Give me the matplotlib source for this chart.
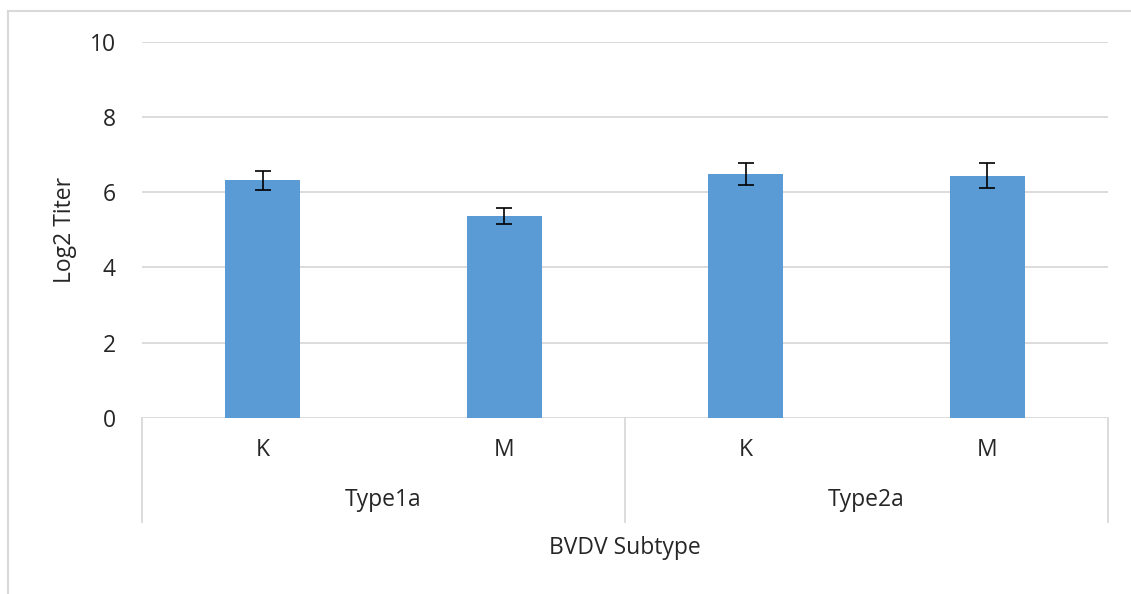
import matplotlib
matplotlib.use("Agg")
import matplotlib.pyplot as plt
import numpy as np

# data
subtypes = ["Type1a", "Type2a"]
groups = ["K", "M"]
titers = [6.32, 5.37, 6.48, 6.44]
errors = [0.25, 0.21, 0.30, 0.33]
y_ticks = [0, 2, 4, 6, 8, 10]

BAR = "#5B9BD5"
GRID = "#D9D9D9"
TXT = "#262626"
FS = 16.5

plt.rcParams['font.family'] = ['Open Sans', 'DejaVu Sans']

W, H = 1131, 594
fig = plt.figure(figsize=(W / 100, H / 100), dpi=100)
ax = fig.add_axes([142 / W, (H - 418) / H, 966 / W, (418 - 41.7) / H])

n = len(subtypes) * len(groups)
x = np.arange(n)
ax.bar(x, titers, width=0.31, color=BAR, zorder=3)
ax.errorbar(x, titers, yerr=errors, fmt='none', ecolor='black',
            elinewidth=1.2, capsize=5.6, capthick=1.2, zorder=4)

ax.set_xlim(-0.5, n - 0.5)
ax.set_ylim(0, 10)
ax.set_yticks(y_ticks)
ax.yaxis.grid(True, color=GRID, lw=1.3, zorder=0)
ax.tick_params(axis='y', length=0, pad=19, labelsize=FS, labelcolor=TXT)
ax.set_xticks([])
for s in ax.spines.values():
    s.set_visible(False)

# multi-level category axis
tr = ax.get_xaxis_transform()
for i in range(n):
    ax.text(x[i], -0.085, groups[i % len(groups)], transform=tr,
            ha='center', va='center', fontsize=FS, color=TXT)
for j, name in enumerate(subtypes):
    cx = j * len(groups) + (len(groups) - 1) / 2
    ax.text(cx, -0.218, name, transform=tr, ha='center', va='center',
            fontsize=FS, color=TXT)
for xb in [-0.5, 1.5, 3.5]:
    ax.plot([xb, xb], [0, -0.276], transform=tr, color=GRID, lw=1.3,
            clip_on=False)

fig.text((142 + 1108) / 2 / W, (H - 548) / H, "BVDV Subtype",
         ha='center', va='center', fontsize=FS, color=TXT)
fig.text(65 / W, (H - 230) / H, "Log2 Titer", rotation=90,
         ha='center', va='center', fontsize=FS, color=TXT)

# chart area border: only top and left edges are inside the picture
fig.add_artist(plt.Line2D([8 / W, 1.0], [(H - 10.7) / H] * 2,
                          transform=fig.transFigure, color=GRID, lw=1.5))
fig.add_artist(plt.Line2D([8 / W] * 2, [0.0, (H - 10.7) / H],
                          transform=fig.transFigure, color=GRID, lw=1.5))

fig.savefig("out.png", dpi=100)
